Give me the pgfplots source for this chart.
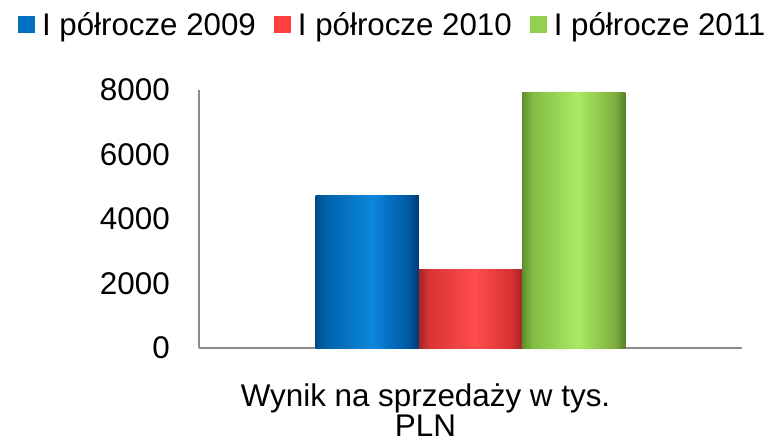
\documentclass[border=0pt]{standalone}
\usepackage{pgfplots}
\pgfplotsset{compat=1.18}
\usepackage{fontspec}
\setmainfont{Liberation Sans}
\definecolor{leg1}{HTML}{0070C0}
\definecolor{leg2}{HTML}{FF4040}
\definecolor{leg3}{HTML}{92D050}
\definecolor{axgray}{HTML}{8C8C8C}
\definecolor{b1}{HTML}{004C8A}\definecolor{b2}{HTML}{0063AA}\definecolor{b3}{HTML}{0C86DC}\definecolor{b4}{HTML}{0058A0}\definecolor{b5}{HTML}{003A70}
\definecolor{r1}{HTML}{A82424}\definecolor{r2}{HTML}{D83434}\definecolor{r3}{HTML}{FF4C4C}\definecolor{r4}{HTML}{D83030}\definecolor{r5}{HTML}{A02828}
\definecolor{g1}{HTML}{5E8E2C}\definecolor{g2}{HTML}{82BC44}\definecolor{g3}{HTML}{AAEA62}\definecolor{g4}{HTML}{7EAE3E}\definecolor{g5}{HTML}{5A7E2A}
\pgfdeclarehorizontalshading{blueshade}{100bp}{color(0bp)=(b1); color(25bp)=(b1); color(30bp)=(b2); color(52bp)=(b3); color(70bp)=(b4); color(75bp)=(b5); color(100bp)=(b5)}
\pgfdeclarehorizontalshading{redshade}{100bp}{color(0bp)=(r1); color(25bp)=(r1); color(30bp)=(r2); color(52bp)=(r3); color(70bp)=(r4); color(75bp)=(r5); color(100bp)=(r5)}
\pgfdeclarehorizontalshading{greenshade}{100bp}{color(0bp)=(g1); color(25bp)=(g1); color(30bp)=(g2); color(52bp)=(g3); color(70bp)=(g4); color(75bp)=(g5); color(100bp)=(g5)}
\begin{document}
\begin{tikzpicture}
\begin{axis}[
  scale only axis,
  width=543bp, height=258bp,
  xmin=-2.63, xmax=2.63,
  ymin=0, ymax=8000,
  axis lines*=left,
  axis line style={axgray, line width=1.2bp},
  ytick={0,2000,4000,6000,8000},
  xtick={0},
  xticklabels={{Wynik na sprzedaży w tys.\\PLN}},
  major tick length=0pt,
  tick align=inside,
  scaled y ticks=false,
  /pgf/number format/1000 sep={},
  /pgf/number format/assume math mode=true,
  tick label style={font=\fontsize{31.5}{30}\selectfont, inner sep=0pt},
  yticklabel style={xshift=-29bp},
  xticklabel style={align=center, yshift=-36bp, xshift=-45bp},
  legend columns=3,
  legend image code/.code={\fill[#1] (0bp,-8.5bp) rectangle (17bp,8.5bp);},
  legend style={draw=none, fill=none, inner sep=0pt, outer sep=0pt,
    at={(-0.3333,1.30)}, anchor=north west,
    font=\fontsize{31.4}{32}\selectfont,
    nodes={inner sep=0pt},
    /tikz/every even column/.append style={column sep=18bp},
    /tikz/every odd column/.append style={column sep=7bp}},
]
\addplot[ybar, bar width=1, bar shift=-1, draw=none, shade, shading=blueshade, forget plot] coordinates {(0,4720)};
\addplot[ybar, bar width=1, bar shift=0, draw=none, shade, shading=redshade, forget plot] coordinates {(0,2420)};
\addplot[ybar, bar width=1, bar shift=1, draw=none, shade, shading=greenshade, forget plot] coordinates {(0,7920)};
\addlegendimage{fill=leg1, draw=none}
\addlegendentry{I półrocze 2009}
\addlegendimage{fill=leg2, draw=none}
\addlegendentry{I półrocze 2010}
\addlegendimage{fill=leg3, draw=none}
\addlegendentry{I półrocze 2011}
\end{axis}
\pgfresetboundingbox
\path (-199bp,-97bp) rectangle (579bp,348bp);
\end{tikzpicture}
\end{document}
